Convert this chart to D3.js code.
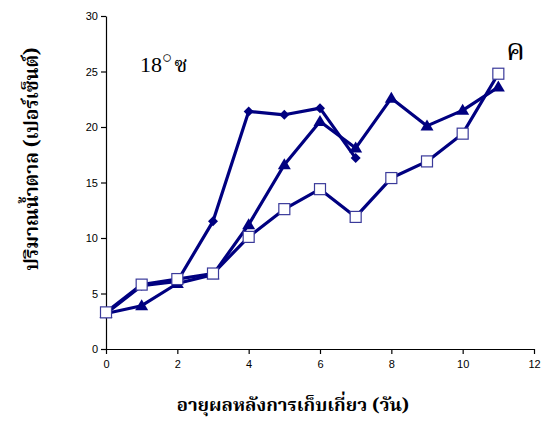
<!DOCTYPE html>
<html>
<head>
<meta charset="utf-8">
<script src="https://cdn.jsdelivr.net/npm/d3@7"></script>
<style>
  body { margin: 0; background: #fff; }
  svg { display: block; }
</style>
</head>
<body>
<svg id="chart" width="548" height="427"></svg>
<script>
// data
const days = [0, 1, 2, 3, 4, 5, 6, 7, 8, 9, 10, 11]
const diamondVals = [3.2, 5.7, 6.1, 11.5, 21.4, 21.1, 21.7, 17.2]
const triangleVals = [3.2, 3.9, 5.9, 6.7, 11.2, 16.6, 20.5, 18.1, 22.6, 20.1, 21.5, 23.6]
const squareVals = [3.3, 5.8, 6.3, 6.8, 10.1, 12.6, 14.4, 11.9, 15.4, 16.9, 19.4, 24.8]
const xTicks = [0, 2, 4, 6, 8, 10, 12]
const yTicks = [0, 5, 10, 15, 20, 25, 30]

const navy = "#000080"
const thaiFont = "'Norasi', 'Noto Serif Thai', 'Tlwg Typo', 'Garuda', 'Noto Sans Thai', serif"

const svg = d3.select("#chart")

const x = d3.scaleLinear().domain([0, 12]).range([106, 534])
const y = d3.scaleLinear().domain([0, 30]).range([349, 16])

// axes
svg.append("g")
    .attr("transform", `translate(0,${y(0)})`)
    .call(d3.axisBottom(x).tickValues(xTicks).tickSize(5).tickSizeOuter(0).tickPadding(6))
svg.append("g")
    .attr("transform", `translate(${x(0)},0)`)
    .call(d3.axisLeft(y).tickValues(yTicks).tickSize(5).tickSizeOuter(0).tickPadding(3))

svg.selectAll(".domain").attr("stroke", "#000").attr("stroke-width", 1.2)
svg.selectAll(".tick line").attr("stroke", "#000").attr("stroke-width", 1.2)
svg.selectAll(".tick text")
    .attr("font-family", "'Liberation Sans', Arial, sans-serif")
    .attr("font-size", "11px")
    .attr("fill", "#000")

const line = d3.line()
    .x((d, i) => x(days[i]))
    .y(d => y(d))

const series = [
    {vals: diamondVals, shape: "diamond"},
    {vals: triangleVals, shape: "triangle"},
    {vals: squareVals, shape: "square"}
]

series.forEach(s => {
    svg.append("path")
        .datum(s.vals)
        .attr("d", line)
        .attr("fill", "none")
        .attr("stroke", navy)
        .attr("stroke-width", 3.2)
        .attr("stroke-linejoin", "round")
})

// markers drawn after the lines
series.forEach(s => {
    const g = svg.append("g")
    s.vals.forEach((v, i) => {
        const cx = x(days[i]), cy = y(v)
        if (s.shape === "diamond") {
            g.append("path")
                .attr("d", `M${cx},${cy - 5}L${cx + 5},${cy}L${cx},${cy + 5}L${cx - 5},${cy}Z`)
                .attr("fill", navy)
        } else if (s.shape === "triangle") {
            g.append("path")
                .attr("d", `M${cx},${cy - 6.5}L${cx + 6.5},${cy + 4.5}L${cx - 6.5},${cy + 4.5}Z`)
                .attr("fill", navy)
        } else {
            g.append("rect")
                .attr("x", cx - 5.5).attr("y", cy - 5.5)
                .attr("width", 11).attr("height", 11)
                .attr("fill", "#fff")
                .attr("stroke", "#3a3a9a")
                .attr("stroke-width", 1.2)
        }
    })
})

// annotations
const temp = svg.append("text")
    .attr("x", 140).attr("y", 72)
    .attr("font-family", "'Liberation Serif', 'Times New Roman', serif")
    .attr("font-size", "22px")
    .attr("fill", "#000")
temp.append("tspan").text("18")
temp.append("tspan").attr("dy", -9).attr("font-size", "17px").text("\u25CB")
temp.append("tspan").attr("dy", 9).attr("dx", 2).attr("font-family", thaiFont).attr("font-size", "22px").text("ซ")

svg.append("text")
    .attr("x", 506).attr("y", 60)
    .attr("font-family", thaiFont)
    .attr("font-size", "30px")
    .attr("fill", "#000")
    .text("ค")

// axis titles
svg.append("text")
    .attr("x", 293).attr("y", 411)
    .attr("text-anchor", "middle")
    .attr("font-family", thaiFont)
    .attr("font-weight", "bold")
    .attr("font-size", "18.5px")
    .attr("fill", "#000")
    .text("อายุผลหลังการเก็บเกี่ยว (วัน)")

svg.append("text")
    .attr("transform", "translate(38,159) rotate(-90)")
    .attr("text-anchor", "middle")
    .attr("font-family", thaiFont)
    .attr("font-weight", "bold")
    .attr("font-size", "19px")
    .attr("fill", "#000")
    .text("ปริมาณน้ำตาล (เปอร์เซ็นต์)")
</script>
</body>
</html>
